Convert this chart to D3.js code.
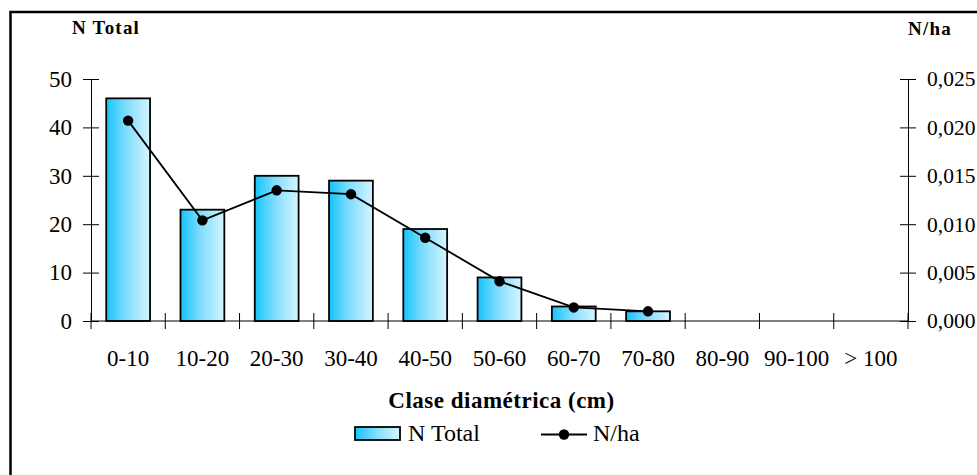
<!DOCTYPE html>
<html><head><meta charset="utf-8">
<script src="https://cdn.jsdelivr.net/npm/d3@7/dist/d3.min.js"></script>
<style>
html,body{margin:0;padding:0;background:#fff;}
</style></head>
<body><svg id="chart" width="977" height="475" font-family="Liberation Serif, serif"></svg>
<script>
const categories = ["0-10","10-20","20-30","30-40","40-50","50-60","60-70","70-80","80-90","90-100","> 100"];
const nTotal = [46, 23, 30, 29, 19, 9, 3, 2, null, null, null];
const nHa = [0.0207, 0.0104, 0.0135, 0.0131, 0.0086, 0.0041, 0.0014, 0.0010, null, null, null];
const leftTicks = [0, 10, 20, 30, 40, 50];
const rightTicks = [0, 0.005, 0.010, 0.015, 0.020, 0.025];
const rightTickLabels = ["0,000","0,005","0,010","0,015","0,020","0,025"];

const FONT = "Liberation Serif, serif";
const svg = d3.select("#chart");
const L = 91, R = 908, T = 79, B = 321;

// frame
svg.append("rect").attr("x",10.5).attr("y",12).attr("width",1000).attr("height",500)
  .attr("fill","none").attr("stroke","#000").attr("stroke-width",2.5);

const x = d3.scaleBand().domain(categories).range([L,R]).paddingInner(0.41).paddingOuter(0.205);
const yL = d3.scaleLinear().domain([0,50]).range([B,T]);
const yR = d3.scaleLinear().domain([0,0.025]).range([B,T]);

const defs = svg.append("defs");
const g = defs.append("linearGradient").attr("id","barGrad").attr("x1","0").attr("x2","1").attr("y1","0").attr("y2","0");
g.append("stop").attr("offset","0%").attr("stop-color","#14c4fb");
g.append("stop").attr("offset","45%").attr("stop-color","#7fdcfd");
g.append("stop").attr("offset","100%").attr("stop-color","#d6f5ff");

// bars
svg.append("g").selectAll("rect").data(categories.map((c,i)=>({c,v:nTotal[i]})).filter(d=>d.v!=null))
  .join("rect")
  .attr("x",d=>x(d.c)).attr("width",x.bandwidth())
  .attr("y",d=>yL(d.v)).attr("height",d=>B-yL(d.v))
  .attr("fill","url(#barGrad)").attr("stroke","#000").attr("stroke-width",1.8);

// left axis
const axL = svg.append("g").attr("transform",`translate(${L},0)`)
  .call(d3.axisLeft(yL).tickValues(leftTicks).tickSize(8).tickSizeOuter(0).tickPadding(11).tickFormat(d3.format("d")));
axL.attr("font-family",FONT).attr("font-size",23);
axL.selectAll(".tick line").attr("x1",8).attr("x2",-8);
axL.selectAll("text").attr("fill","#000");

// right axis
const axR = svg.append("g").attr("transform",`translate(${R},0)`)
  .call(d3.axisRight(yR).tickValues(rightTicks).tickSize(8).tickSizeOuter(0).tickPadding(11)
    .tickFormat((d,i)=>rightTickLabels[i]));
axR.attr("font-family",FONT).attr("font-size",21.5);
axR.selectAll(".tick line").attr("x1",-8).attr("x2",8);
axR.selectAll("text").attr("fill","#000");

// x axis
svg.append("line").attr("x1",L).attr("x2",R).attr("y1",B).attr("y2",B).attr("stroke","#000");
const idx = d3.scaleLinear().domain([0,categories.length]).range([L,R]);
svg.append("g").selectAll("line").data(d3.range(categories.length+1)).join("line")
  .attr("x1",d=>idx(d)).attr("x2",d=>idx(d)).attr("y1",B-8).attr("y2",B+8).attr("stroke","#000");
const axB = svg.append("g").attr("transform",`translate(0,${B})`)
  .call(d3.axisBottom(x).tickSize(0).tickPadding(29));
axB.attr("font-family",FONT).attr("font-size",23);
axB.select(".domain").remove();
axB.selectAll("text").attr("fill","#000");

// line
const pts = categories.map((c,i)=>({c,v:nHa[i]})).filter(d=>d.v!=null);
const line = d3.line().x(d=>x(d.c)+x.bandwidth()/2).y(d=>yR(d.v));
svg.append("path").datum(pts).attr("d",line).attr("fill","none").attr("stroke","#000").attr("stroke-width",1.8);
svg.append("g").selectAll("circle").data(pts).join("circle")
  .attr("cx",d=>x(d.c)+x.bandwidth()/2).attr("cy",d=>yR(d.v)).attr("r",5.2).attr("fill","#000");

// axis titles
svg.append("text").attr("x",72).attr("y",34).attr("font-size",19).attr("font-weight","bold")
  .attr("font-family",FONT).attr("letter-spacing",1.2).text("N Total");
svg.append("text").attr("x",908).attr("y",35).attr("font-size",19).attr("font-weight","bold")
  .attr("font-family",FONT).attr("letter-spacing",1.2).text("N/ha");
svg.append("text").attr("x",(L+R)/2+2).attr("y",408).attr("text-anchor","middle")
  .attr("font-family",FONT).attr("font-size",23).attr("letter-spacing",0.5).attr("font-weight","bold").text("Clase diamétrica (cm)");

// legend
svg.append("rect").attr("x",355).attr("y",427).attr("width",45).attr("height",13)
  .attr("fill","url(#barGrad)").attr("stroke","#000").attr("stroke-width",1.8);
svg.append("text").attr("x",408).attr("y",441).attr("font-family",FONT).attr("font-size",24).text("N Total");
svg.append("line").attr("x1",541).attr("x2",587).attr("y1",434.5).attr("y2",434.5).attr("stroke","#000").attr("stroke-width",2);
svg.append("circle").attr("cx",564).attr("cy",434.5).attr("r",5.2).attr("fill","#000");
svg.append("text").attr("x",593).attr("y",441).attr("font-family",FONT).attr("font-size",24).text("N/ha");
</script></body></html>
